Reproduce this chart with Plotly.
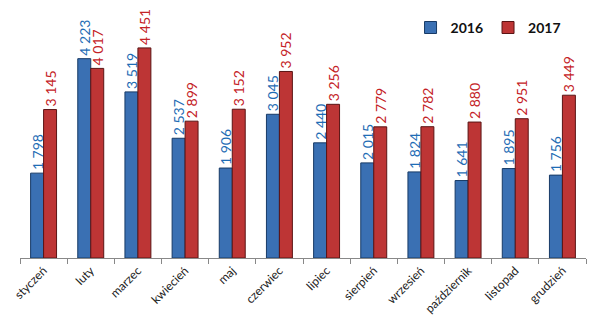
import plotly.graph_objects as go

months = ["styczeń", "luty", "marzec", "kwiecień", "maj", "czerwiec", "lipiec",
          "sierpień", "wrzesień", "październik", "listopad", "grudzień"]
v2016 = [1798, 4223, 3519, 2537, 1906, 3045, 2440, 2015, 1824, 1641, 1895, 1756]
v2017 = [3145, 4017, 4451, 2899, 3152, 3952, 3256, 2779, 2782, 2880, 2951, 3449]

def fmt(v):
    return f"{v:,}".replace(",", " ")

fig = go.Figure()
fig.add_trace(go.Bar(
    name="2016", x=months, y=v2016, text=[fmt(v) for v in v2016],
    textposition="outside", textangle=-90, constraintext="none",
    textfont=dict(color="#1f6db5", size=14, family="Lato"),
    marker=dict(color="#3a70b3", line=dict(color="#173a66", width=1)),
    cliponaxis=False,
))
fig.add_trace(go.Bar(
    name="2017", x=months, y=v2017, text=[fmt(v) for v in v2017],
    textposition="outside", textangle=-90, constraintext="none",
    textfont=dict(color="#c42226", size=14, family="Lato"),
    marker=dict(color="#bd3535", line=dict(color="#5a1414", width=1)),
    cliponaxis=False,
))
fig.update_layout(
    width=607, height=330,
    margin=dict(l=14, r=21, t=18, b=72),
    plot_bgcolor="white", paper_bgcolor="white",
    barmode="group", bargap=0.45, bargroupgap=0,
    font=dict(family="Lato", color="#222222"),
    showlegend=True,
    legend=dict(orientation="h", x=0.69, y=0.975, xanchor="left", yanchor="middle",
                font=dict(size=14, color="#111111", family="Lato", weight="bold"),
                itemwidth=30, traceorder="normal", bgcolor="rgba(0,0,0,0)"),
    xaxis=dict(showline=True, linecolor="#888888", linewidth=1,
               ticks="outside", tickson="boundaries", ticklen=5, tickcolor="#888888",
               tickangle=-45, tickfont=dict(size=12, color="#222222")),
    yaxis=dict(range=[0, 5000], visible=False, showgrid=False),
)
fig.write_html("out.html")
